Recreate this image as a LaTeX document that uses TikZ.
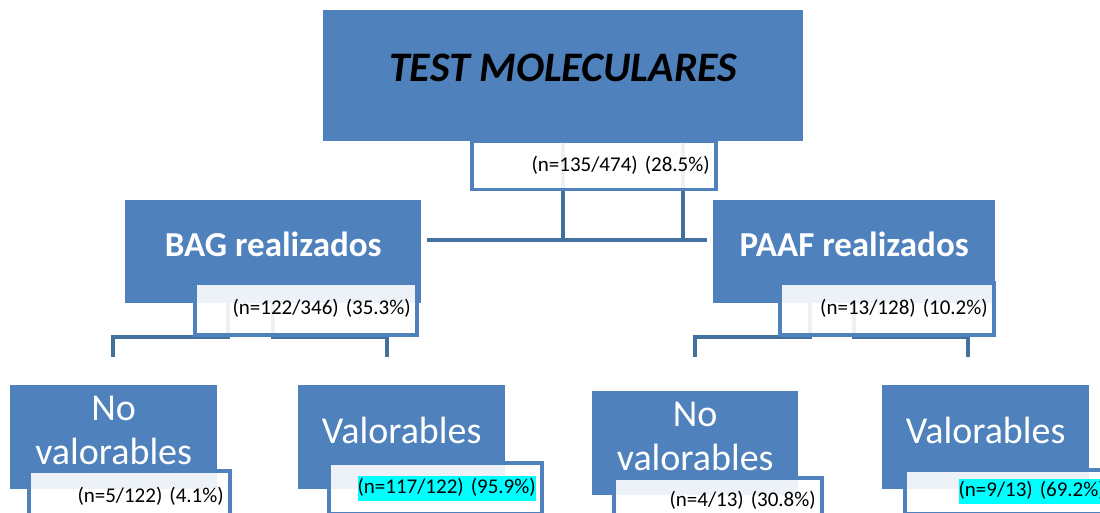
\documentclass[tikz,border=0pt]{standalone}
\usepackage{fontspec}
\setmainfont{Carlito}
\usetikzlibrary{calc,positioning,backgrounds}
\definecolor{azulcaja}{RGB}{79,129,189}
\definecolor{azullinea}{RGB}{65,113,156}
\definecolor{resalte}{RGB}{0,255,255}
\newcommand{\resaltar}[1]{{\setlength{\fboxsep}{0pt}\colorbox{resalte}{\strut #1}}}
\tikzset{
  caja/.style={
    anchor=north west,
    fill=azulcaja,
    text=white,
    align=center,
    inner sep=0pt,
    text depth=14pt,
    font=\fontsize{38}{44}\selectfont
  },
  dato/.style={
    anchor=north west,
    draw=azulcaja,
    line width=3.5pt,
    fill=white,
    fill opacity=.9,
    text opacity=1,
    align=right,
    inner xsep=6pt,
    inner ysep=0pt,
    font=\fontsize{21}{25}\selectfont
  },
  conector/.style={
    draw=azullinea,
    line width=4pt
  }
}

\begin{document}
\begin{tikzpicture}[x=1pt,y=-1pt]
\useasboundingbox (0,0) rectangle (1100,513);
% nivel 1
\node[caja, text=black, font=\fontsize{42}{50}\selectfont\bfseries\itshape, text depth=15pt, minimum width=480pt, minimum height=131pt] (test) at (323,10) {TEST MOLECULARES};
\node[dato, text width=232pt, minimum height=48pt] (testn) at (470,140) {(n=135/474) (28.5\%)};
% nivel 2
\node[caja, font=\fontsize{35}{42}\selectfont\bfseries, minimum width=296pt, minimum height=103pt] (bag) at (125,200) {BAG realizados};
\node[dato, text width=210pt, minimum height=52pt] (bagn) at (193,281) {(n=122/346) (35.3\%)};
\node[caja, font=\fontsize{35}{42}\selectfont\bfseries, minimum width=282pt, minimum height=103pt] (paaf) at (713,200) {PAAF realizados};
\node[dato, text width=202pt, minimum height=52pt] (paafn) at (778,281) {(n=13/128) (10.2\%)};
% nivel 3
\node[caja, minimum width=207pt, minimum height=104pt] (nv1) at (10,385) {No\\valorables};
\node[dato, text width=189pt, minimum height=52pt] (nv1n) at (27,469) {(n=5/122) (4.1\%)};
\node[caja, minimum width=207pt, minimum height=104pt] (v1) at (298,385) {Valorables};
\node[dato, text width=201pt, minimum height=51pt] (v1n) at (327,461) {\resaltar{(n=117/122) (95.9\%)}};
\node[caja, minimum width=206pt, minimum height=104pt] (nv2) at (592,391) {No\\valorables};
\node[dato, text width=196pt, minimum height=46pt] (nv2n) at (612,476) {(n=4/13) (30.8\%)};
\node[caja, minimum width=207pt, minimum height=104pt] (v2) at (882,385) {Valorables};
\node[dato, text width=194pt, minimum height=44pt] (v2n) at (903,468) {\resaltar{(n=9/13) (69.2\%)}};
% extremos libres
\coordinate (h) at (0,240);
\coordinate (d1) at (113,357);
\coordinate (d2) at (387,357);
\coordinate (d3) at (695,357);
\coordinate (d4) at (968,357);
\begin{scope}[on background layer]
\draw[conector] (test.south) -- (test.south |- h);
\draw[conector] ($(test.south)+(120,0)$) -- ($(test.south |- h)+(120,0)$);
\draw[conector, shorten <=6pt, shorten >=6pt] (bag.east |- h) -- (paaf.west |- h);
\draw[conector] ($(bag.south)+(-45,0)$) -- ++(0,34) -| (d1);
\draw[conector] (bag.south) -- ++(0,34) -| (d2);
\draw[conector] ($(paaf.south)+(-44,0)$) -- ++(0,34) -| (d3);
\draw[conector] (paaf.south) -- ++(0,34) -| (d4);
\end{scope}
\end{tikzpicture}
\end{document}
